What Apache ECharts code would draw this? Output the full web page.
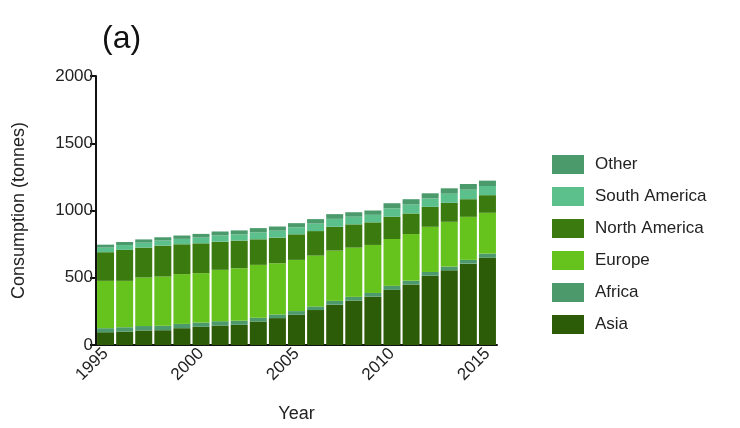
<!DOCTYPE html>
<html>
<head>
<meta charset="utf-8">
<script src="https://cdn.jsdelivr.net/npm/echarts@6/dist/echarts.min.js"></script>
<style>
  html, body { margin: 0; padding: 0; background: #fff; }
  #chart { width: 740px; height: 428px; }
</style>
</head>
<body>
<div id="chart"></div>
<script>
// data (tonnes)
var years = ['1995','1996','1997','1998','1999','2000','2001','2002','2003','2004','2005',
             '2006','2007','2008','2009','2010','2011','2012','2013','2014','2015'];
var asia     = [95, 100, 108, 110, 125, 135, 145, 150, 175, 200, 225, 260, 300, 330, 360, 410, 450, 515, 555, 605, 650];
var africa   = [30, 32, 33, 33, 32, 32, 32, 30, 28, 27, 27, 27, 28, 28, 27, 30, 28, 28, 28, 28, 30];
var europe   = [352, 345, 361, 366, 370, 367, 382, 391, 393, 381, 381, 378, 374, 366, 357, 348, 347, 336, 333, 320, 303];
var nAmerica = [213, 230, 222, 230, 222, 222, 209, 205, 190, 190, 190, 182, 177, 173, 168, 165, 153, 148, 141, 131, 131];
var sAmerica = [34, 36, 37, 38, 40, 43, 47, 47, 52, 52, 52, 56, 59, 57, 56, 63, 66, 63, 68, 71, 68];
var other    = [22, 23, 24, 24, 25, 27, 29, 29, 31, 31, 31, 33, 35, 33, 32, 38, 40, 38, 40, 42, 40];
var yTicks = [0, 500, 1000, 1500, 2000];

var font = 'Liberation Sans, Arial, sans-serif';

function layer(name, data, color) {
    return {
        name: name,
        type: 'bar',
        stack: 'total',
        data: data,
        barCategoryGap: '11%',
        itemStyle: { color: color },
        emphasis: { disabled: true }
    };
}

var myChart = echarts.init(document.getElementById('chart'));
myChart.setOption({
    animation: false,
    textStyle: { fontFamily: font },
    title: {
        text: '(a)',
        left: 97,
        top: 18,
        textStyle: { fontSize: 32, fontWeight: 'normal', color: '#111', fontFamily: font }
    },
    legend: {
        orient: 'vertical',
        left: 547,
        top: 150,
        itemWidth: 32,
        itemHeight: 19,
        itemGap: 13,
        icon: 'rect',
        textStyle: { fontSize: 17, color: '#222', fontFamily: font, padding: [0, 0, 0, 6] },
        data: ['Other', 'South America', 'North America', 'Europe', 'Africa', 'Asia']
    },
    grid: { left: 96, right: 243, top: 76, bottom: 82 },
    xAxis: {
        type: 'category',
        data: years,
        name: 'Year',
        nameLocation: 'middle',
        nameGap: 60,
        nameTextStyle: { fontSize: 18, color: '#222', fontFamily: font },
        axisLine: { lineStyle: { color: '#111', width: 2 } },
        axisTick: { show: false },
        axisLabel: {
            interval: 4,
            rotate: 45,
            fontSize: 17,
            color: '#222',
            margin: 6,
            fontFamily: font
        }
    },
    yAxis: {
        type: 'value',
        min: yTicks[0],
        max: yTicks[yTicks.length - 1],
        interval: 500,
        name: 'Consumption (tonnes)',
        nameLocation: 'middle',
        nameGap: 68,
        nameTextStyle: { fontSize: 18, color: '#222', fontFamily: font },
        axisLine: { show: true, lineStyle: { color: '#111', width: 2 } },
        axisTick: { show: true, length: 6, lineStyle: { color: '#111', width: 2 } },
        axisLabel: {
            fontSize: 17, color: '#222', margin: 3, fontFamily: font,
            formatter: function (v) { return String(v); }
        },
        splitLine: { show: false }
    },
    series: [
        layer('Asia', asia, '#2c5c08'),
        layer('Africa', africa, '#4c9a6c'),
        layer('Europe', europe, '#66c21c'),
        layer('North America', nAmerica, '#3b7a0e'),
        layer('South America', sAmerica, '#5cc08c'),
        layer('Other', other, '#4a9a6c')
    ]
});
</script>
</body>
</html>
